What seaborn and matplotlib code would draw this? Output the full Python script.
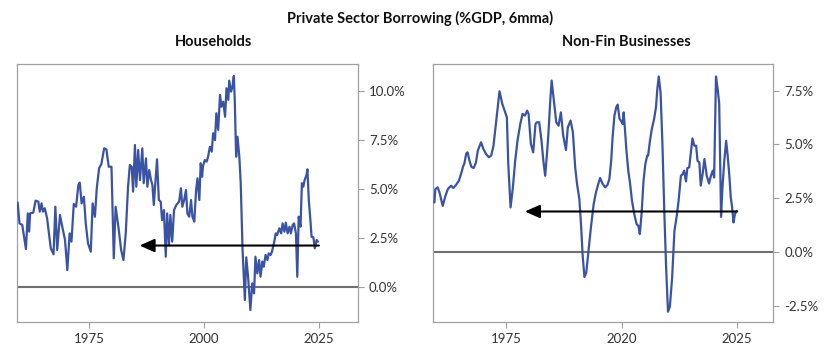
import numpy as np
import pandas as pd
import matplotlib
matplotlib.use("Agg")
import matplotlib.pyplot as plt
import seaborn as sns

# ---- data ----
hh_year = [1959.5, 1959.9, 1960.5, 1961.3, 1961.7, 1962.0, 1962.2, 1962.9, 1963.4, 1964.0,
           1964.3, 1964.7, 1965.0, 1965.4, 1965.9, 1966.4, 1966.7, 1967.3, 1967.7, 1968.1,
           1968.7, 1969.2, 1969.8, 1970.3, 1970.8, 1971.2, 1971.7, 1972.2, 1972.7, 1973.0,
           1973.4, 1973.9, 1974.3, 1974.8, 1975.4, 1975.8, 1976.3, 1976.7, 1977.2, 1977.7,
           1978.3, 1978.8, 1979.3, 1979.9, 1980.4, 1980.8, 1981.4, 1982.0, 1982.5, 1983.0,
           1983.5, 1983.9, 1984.3, 1984.6, 1985.0, 1985.3, 1985.7, 1986.1, 1986.6, 1986.9,
           1987.4, 1987.7, 1988.1, 1988.5, 1988.8, 1989.1, 1989.4, 1989.8, 1990.2, 1990.6,
           1990.9, 1991.3, 1991.7, 1992.0, 1992.4, 1992.7, 1993.1, 1993.5, 1994.0, 1994.6,
           1995.0, 1995.3, 1995.7, 1996.1, 1996.4, 1996.8, 1997.2, 1997.5, 1997.9, 1998.3,
           1998.6, 1999.0, 1999.3, 1999.6, 1999.8, 2000.2, 2000.6, 2000.9, 2001.3, 2001.7,
           2002.0, 2002.4, 2002.7, 2003.1, 2003.5, 2003.8, 2004.2, 2004.6, 2004.9, 2005.3,
           2005.5, 2005.9, 2006.2, 2006.5, 2006.7, 2007.0, 2007.3, 2007.7, 2008.0, 2008.4,
           2008.9, 2009.2, 2009.6, 2010.1, 2010.5, 2010.9, 2011.2, 2011.6, 2012.0, 2012.3,
           2012.7, 2013.0, 2013.4, 2013.8, 2014.1, 2014.5, 2014.8, 2015.3, 2015.6, 2015.9,
           2016.4, 2016.8, 2017.1, 2017.5, 2017.8, 2018.2, 2018.6, 2018.9, 2019.3, 2019.6,
           2020.0, 2020.3, 2020.6, 2021.0, 2021.3, 2021.6, 2021.9, 2022.3, 2022.5, 2022.8,
           2023.2, 2023.4, 2023.8, 2024.1, 2024.5, 2024.8]
hh_value = [4.29, 3.23, 3.15, 1.92, 3.74, 2.81, 3.74, 3.78, 4.39, 4.34,
            3.83, 4.25, 3.83, 4.00, 3.49, 2.55, 1.96, 1.65, 4.08, 1.87,
            3.66, 3.06, 2.38, 0.85, 2.72, 2.30, 4.22, 4.08, 5.19, 5.31,
            4.25, 4.59, 3.23, 2.21, 1.79, 4.25, 3.57, 5.02, 6.04, 6.26,
            7.06, 7.00, 6.12, 6.12, 1.45, 4.08, 3.06, 1.87, 1.36, 2.72,
            5.10, 6.21, 6.12, 4.85, 7.23, 5.10, 6.97, 5.44, 7.06, 5.28,
            6.55, 5.10, 5.95, 5.44, 5.19, 4.17, 5.19, 6.50, 4.42, 4.34,
            3.40, 3.91, 1.53, 3.74, 2.13, 3.66, 2.30, 3.91, 4.17, 4.34,
            5.02, 4.08, 4.42, 4.93, 3.74, 3.57, 4.42, 3.57, 3.32, 4.93,
            5.53, 4.42, 6.30, 5.61, 6.16, 6.46, 6.38, 6.63, 7.14, 6.89,
            7.83, 7.48, 8.85, 8.00, 9.78, 9.18, 9.44, 8.67, 10.12, 9.53,
            10.51, 9.95, 10.20, 10.75, 9.53, 6.63, 7.65, 6.63, 5.28, 1.87,
            -0.68, 1.50, 0.51, -1.19, 0.17, -0.34, 1.53, 0.68, 1.36, 0.51,
            1.28, 1.02, 1.62, 1.36, 1.70, 1.62, 1.79, 2.30, 2.72, 2.64,
            2.98, 2.72, 3.23, 2.81, 3.27, 2.72, 3.06, 2.72, 3.15, 3.23,
            2.72, 0.51, 3.57, 3.06, 5.28, 5.10, 5.44, 5.70, 5.99, 4.42,
            3.23, 2.55, 2.52, 1.96, 2.38, 2.30]

nfb_year = [1959.4, 1959.6, 1960.1, 1960.5, 1961.2, 1961.8, 1962.3, 1963.0, 1963.5, 1964.1,
            1964.7, 1965.2, 1965.6, 1965.9, 1966.3, 1966.6, 1967.0, 1967.4, 1967.9, 1968.4,
            1968.8, 1969.5, 1970.0, 1970.6, 1971.2, 1971.7, 1972.2, 1972.6, 1973.1, 1973.5,
            1974.1, 1974.6, 1975.1, 1975.4, 1975.9, 1976.4, 1976.9, 1977.4, 1978.0, 1978.5,
            1979.0, 1979.5, 1979.8, 1980.3, 1980.8, 1981.3, 1981.6, 1982.1, 1982.6, 1983.0,
            1983.4, 1983.8, 1984.1, 1984.5, 1984.8, 1985.2, 1985.8, 1986.3, 1986.8, 1987.3,
            1987.9, 1988.3, 1988.9, 1989.4, 1989.9, 1990.3, 1990.8, 1991.2, 1991.5, 1991.9,
            1992.3, 1992.7, 1993.3, 1993.9, 1994.4, 1994.9, 1995.3, 1995.8, 1996.4, 1996.9,
            1997.3, 1997.7, 1998.0, 1998.4, 1998.8, 1999.1, 1999.5, 1999.8, 2000.2, 2000.4,
            2000.7, 2001.0, 2001.4, 2001.8, 2002.2, 2002.7, 2003.2, 2003.6, 2003.9, 2004.3,
            2004.7, 2005.1, 2005.5, 2005.7, 2006.1, 2006.5, 2007.0, 2007.4, 2007.7, 2008.0,
            2008.4, 2008.8, 2009.2, 2009.6, 2010.0, 2010.4, 2010.9, 2011.4, 2011.9, 2012.3,
            2012.8, 2013.2, 2013.5, 2013.9, 2014.2, 2014.6, 2015.0, 2015.3, 2015.7, 2016.1,
            2016.4, 2016.8, 2017.1, 2017.5, 2017.9, 2018.4, 2018.9, 2019.3, 2019.7, 2020.0,
            2020.4, 2020.8, 2021.1, 2021.5, 2021.8, 2022.2, 2022.6, 2022.9, 2023.3, 2023.6,
            2023.9, 2024.2, 2024.5, 2024.9]
nfb_value = [2.30, 2.92, 3.00, 2.77, 2.14, 2.61, 2.92, 3.08, 2.97, 3.12,
             3.31, 3.65, 3.96, 4.12, 4.58, 4.63, 4.24, 3.96, 3.90, 4.16,
             4.71, 5.10, 4.79, 4.55, 4.40, 4.48, 4.94, 5.72, 6.73, 7.47,
             6.89, 6.57, 6.26, 4.09, 2.07, 3.00, 4.24, 5.17, 5.95, 6.42,
             6.34, 6.57, 6.42, 5.02, 4.63, 5.95, 6.03, 6.03, 5.17, 4.24,
             3.54, 4.60, 5.50, 7.04, 7.97, 7.19, 6.03, 5.87, 6.49, 5.41,
             4.74, 5.79, 6.11, 5.56, 3.93, 3.16, 2.46, 1.13, -0.11, -1.17,
             -0.96, -0.11, 1.13, 2.22, 2.77, 3.16, 3.44, 3.18, 3.00, 3.12,
             3.39, 4.24, 5.33, 6.34, 6.73, 6.85, 6.19, 6.11, 5.95, 6.49,
             5.64, 4.71, 3.78, 3.16, 2.38, 1.76, 1.29, 1.21, 0.83, 1.83,
             3.31, 4.09, 4.48, 4.48, 5.17, 5.72, 6.19, 6.73, 7.59, 8.16,
             7.40, 5.00, 1.91, -0.73, -2.78, -2.56, -1.20, 0.98, 1.68, 2.38,
             3.54, 3.62, 3.78, 3.28, 3.90, 3.93, 4.71, 5.28, 4.94, 4.94,
             4.24, 4.16, 3.08, 3.62, 4.32, 3.54, 3.18, 3.54, 3.78, 3.46,
             8.16, 7.51, 6.89, 1.63, 3.00, 4.24, 5.17, 4.55, 3.54, 2.53,
             2.07, 1.37, 1.76, 1.91]

hh_arrow = (2025.0, 1986.0, 2.1)   # from year, to year, level
nfb_arrow = (2025.0, 1979.0, 1.88)

x_ticks = [1975, 2000, 2025]
hh_xlabels = ["1975", "2000", "2025"]
nfb_xlabels = ["1975", "2020", "2025"]
hh_yticks = [0.0, 2.5, 5.0, 7.5, 10.0]
nfb_yticks = [-2.5, 0.0, 2.5, 5.0, 7.5]

# ---- style ----
sns.set_style("white")
plt.rcParams["font.family"] = ["Lato", "DejaVu Sans"]

line_color = "#3a53a4"
spine_color = "#a0a0a0"
text_color = "#333333"

fig = plt.figure(figsize=(8.4, 3.62), dpi=100)
ax1 = fig.add_axes([0.0202, 0.1105, 0.406, 0.7127])
ax2 = fig.add_axes([0.5155, 0.1105, 0.405, 0.7127])

hh = pd.DataFrame({"year": hh_year, "value": hh_value})
nfb = pd.DataFrame({"year": nfb_year, "value": nfb_value})

panels = [
    (ax1, hh, hh_arrow, hh_xlabels, hh_yticks, (-1.8, 11.36), (1959.35, 2033.5)),
    (ax2, nfb, nfb_arrow, nfb_xlabels, nfb_yticks, (-3.26, 8.74), (1959.1, 2032.8)),
]

for ax, df, arrow, xlabels, yticks, ylim, xlim in panels:
    ax.axhline(0, color="#707070", lw=1.5, zorder=1)
    sns.lineplot(data=df, x="year", y="value", ax=ax, color=line_color, lw=1.6, zorder=3)
    ax.annotate("", xy=(arrow[1], arrow[2]), xytext=(arrow[0], arrow[2]),
                arrowprops=dict(arrowstyle="-|>,head_length=0.9,head_width=0.4",
                                color="black", lw=1.5, shrinkA=0, shrinkB=0),
                zorder=4)
    ax.set_xlim(*xlim)
    ax.set_ylim(*ylim)
    ax.set_xticks(x_ticks)
    ax.set_xticklabels(xlabels)
    ax.set_yticks(yticks)
    ax.set_yticklabels([f"{v:.1f}%" for v in yticks])
    ax.yaxis.tick_right()
    ax.set_xlabel("")
    ax.set_ylabel("")
    ax.tick_params(axis="both", which="both", length=4, width=0.8, color=spine_color,
                   labelsize=9.5, labelcolor=text_color, pad=4,
                   left=False, right=True, bottom=True)
    for s in ax.spines.values():
        s.set_color(spine_color)
        s.set_linewidth(0.9)

fig.text(0.5, 0.95, "Private Sector Borrowing (%GDP, 6mma)", ha="center", va="center",
         fontsize=10.5, fontweight="bold", color="#111111")
fig.text(0.254, 0.884, "Households", ha="center", va="center",
         fontsize=10.5, fontweight="bold", color="#111111")
fig.text(0.746, 0.884, "Non-Fin Businesses", ha="center", va="center",
         fontsize=10.5, fontweight="bold", color="#111111")

fig.savefig("out.png", dpi=100)
